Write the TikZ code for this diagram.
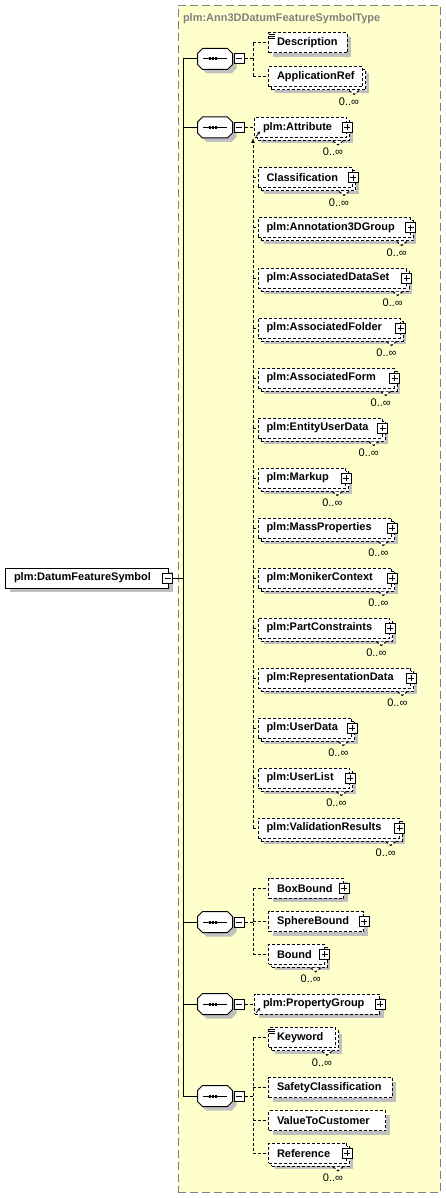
\documentclass[tikz,border=0pt]{standalone}
\usepackage{fontspec}
\setmainfont{Liberation Sans}
\usetikzlibrary{arrows.meta,positioning,shadows}
\definecolor{ctbg}{RGB}{255,255,204}
\definecolor{ctline}{RGB}{128,128,128}
\definecolor{shade}{RGB}{192,192,192}
\newcommand{\lblsize}{\fontsize{11}{13}\selectfont}

\begin{document}
\begin{tikzpicture}[x=1pt,y=-1pt,line width=1pt,
  conn/.style={dash pattern=on 3pt off 2pt},
  shd/.style={general shadow={shadow xshift=4pt,shadow yshift=-4pt,fill=shade}},
  el/.style={draw,fill=white,conn,shd,anchor=west,align=left,minimum height=20pt,
    inner xsep=8.5pt,inner ysep=0pt,font=\lblsize\bfseries},
  multi/.style={general shadow={shadow xshift=6pt,shadow yshift=-6pt,fill=shade},
    general shadow={shadow xshift=3pt,shadow yshift=-3pt,fill=white,draw}},
  seq/.style={minimum width=34pt,minimum height=20pt,inner sep=0pt},
  oct/.style={draw,fill=white,shd},
  tog/.style={draw,fill=white,solid,minimum size=10pt,inner sep=0pt},
  minus/.style={tog,path picture={
    \draw ([xshift=2pt]path picture bounding box.west) -- ([xshift=-2pt]path picture bounding box.east);}},
  plus/.style={tog,path picture={
    \draw ([xshift=2pt]path picture bounding box.west) -- ([xshift=-2pt]path picture bounding box.east);
    \draw ([yshift=-2pt]path picture bounding box.north) -- ([yshift=2pt]path picture bounding box.south);}},
  mult/.style={font=\lblsize,inner sep=0pt}]
  \useasboundingbox (0,0) rectangle (446,1198);

  % complex type area
  \node[draw=ctline,fill=ctbg,dash pattern=on 8pt off 4pt,anchor=north west,inner sep=0pt,
    minimum width=262.5pt,minimum height=1187pt] (ctype) at (177.5,5) {};
  \node[font=\lblsize\bfseries,text=ctline,anchor=west,inner sep=0pt] (ttl) at (182.5,19)
    {plm:Ann3DDatumFeatureSymbolType};

  % root element
  \node[el,solid,text width=146.3pt] (root) at (5,578) {plm:DatumFeatureSymbol};
  \node[minus] (roottg) at ([xshift=-1.5pt]root.east) {};

  % sequences
  \foreach \s/\y in {sqa/59,sqb/127.5,sqc/922,sqd/1004,sqe/1096} {
    \node[seq] (\s) at (215,\y) {};
    \draw[oct] ([xshift=5pt]\s.north west) -- ([xshift=-5pt]\s.north east)
      -- ([yshift=-5pt]\s.north east) -- ([yshift=5pt]\s.south east)
      -- ([xshift=-5pt]\s.south east) -- ([xshift=5pt]\s.south west)
      -- ([yshift=5pt]\s.south west) -- ([yshift=-5pt]\s.north west) -- cycle;
    \node[minus,right=1pt of \s] (\s-t) {};
    \draw (\s.center) +(-12,0) -- +(12,0);
    \foreach \d in {-5.5,-2.5,0.5}
      \fill ([xshift=\d pt]\s.center) +(-1,-1.5) rectangle +(1,1.5);
  }
  \coordinate (trunk) at (183,0);
  \coordinate (ga) at (253,0);
  \draw (roottg.east) -- (roottg.east -| trunk);
  \draw (sqa.west -| trunk) -- (sqe.west -| trunk);
  \foreach \s in {sqa,sqb,sqc,sqd,sqe}
    \draw (\s.west -| trunk) -- (\s.west);

  % first sequence
  \node[el,text width=61.7pt] (desc) at (268,43) {Description};
  \node[el,multi,text width=77pt] (appref) at (268,77) {ApplicationRef};

  % second sequence, with substitution group
  \node[el,multi,text width=75pt] (attr) at (254,127.5) {plm:Attribute};
  \foreach \n/\t/\w [count=\i from 0] in {cls/Classification/77.5,
      ann/plm:Annotation3DGroup/135.2,ads/plm:AssociatedDataSet/131.2,
      afo/plm:AssociatedFolder/125,afm/plm:AssociatedForm/119.2,
      eud/plm:EntityUserData/107.2,mku/plm:Markup/70.8,
      mpr/plm:MassProperties/116.8,mcx/plm:MonikerContext/116.8,
      pcs/plm:PartConstraints/114.8,rpd/plm:RepresentationData/135.8,
      usd/plm:UserData/76.8,usl/plm:UserList/74.8,vld/plm:ValidationResults/124.2}
    \node[el,multi,text width=\w pt] (\n) at (257.5,{178+50*\i}) {\t};

  % third sequence
  \node[el,text width=58.3pt] (boxb) at (268,888.3) {BoxBound};
  \node[el,text width=78.3pt] (sphb) at (268,921.7) {SphereBound};
  \node[el,multi,text width=38.7pt] (bound) at (268,954.3) {Bound};

  % fourth sequence
  \node[el,text width=108.3pt] (pgroup) at (254,1004) {plm:PropertyGroup};

  % fifth sequence
  \node[el,multi,text width=50pt] (keyw) at (268,1037.7) {Keyword};
  \node[el,text width=106.7pt] (safe) at (268,1087.7) {SafetyClassification};
  \node[el,text width=100pt] (vtc) at (268,1120.7) {ValueToCustomer};
  \node[el,multi,text width=61pt] (refer) at (268,1153.3) {Reference};

  % connectors
  \draw[conn] (sqa-t.east) -- (sqa-t.east -| ga);
  \draw[conn] (desc.west -| ga) -- (appref.west -| ga);
  \draw[conn] (sqb-t.east) -- (attr.west);
  \draw[conn,-{Latex[length=5pt,width=4pt]}] (vld.west -| ga) -- (attr.south -| ga);
  \draw[conn] (sqc-t.east) -- (sqc-t.east -| ga);
  \draw[conn] (boxb.west -| ga) -- (bound.west -| ga);
  \draw[conn] (sqd-t.east) -- (pgroup.west);
  \draw[conn] (sqe-t.east) -- (sqe-t.east -| ga);
  \draw[conn] (keyw.west -| ga) -- (refer.west -| ga);
  \foreach \n in {desc,appref,cls,ann,ads,afo,afm,eud,mku,mpr,mcx,pcs,rpd,usd,usl,vld,
      boxb,sphb,bound,keyw,safe,vtc,refer}
    \draw[conn] (\n.west -| ga) -- (\n.west);

  % expand boxes, occurrence marks and icons
  \foreach \n in {attr,cls,ann,ads,afo,afm,eud,mku,mpr,mcx,pcs,rpd,usd,usl,vld,
      boxb,sphb,bound,pgroup,refer}
    \node[plus] (\n-t) at (\n.east) {};
  \foreach \n in {appref,attr,cls,ann,ads,afo,afm,eud,mku,mpr,mcx,pcs,rpd,usd,usl,vld,
      bound,keyw,refer} {
    \draw[conn,fill=white] ([xshift=-14pt,yshift=-3pt]\n.south east) -- ++(5,4) -- ++(5,-4);
    \node[mult] (\n-m) at ([xshift=-14pt,yshift=-14pt]\n.south east) {0..∞};
  }
  \foreach \n in {desc,keyw}
    \foreach \k in {2,4,6}
      \draw[line width=0.8pt] ([xshift=1pt,yshift=-\k pt]\n.north west) -- ++(6,0);
  \foreach \n in {attr,pgroup}
    \draw[line width=0.8pt,-{Stealth[length=3pt,width=3pt]}]
      ([xshift=2pt,yshift=1.5pt]\n.south west) -- ++(4,-5);
\end{tikzpicture}
\end{document}
